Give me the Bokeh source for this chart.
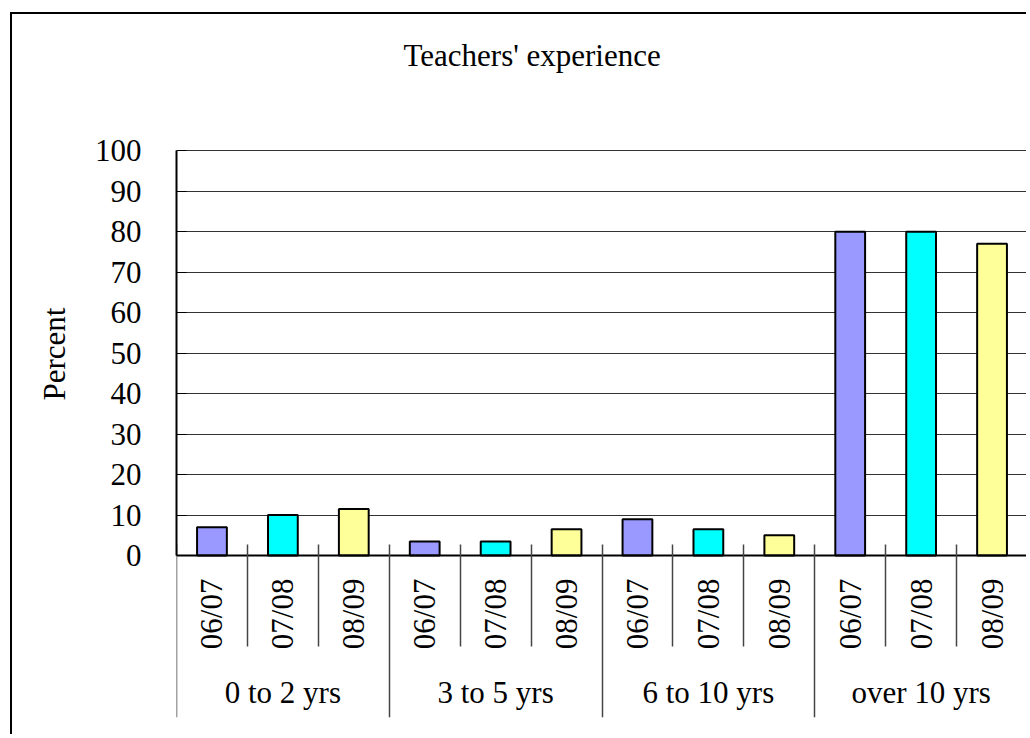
from math import pi
from bokeh.plotting import figure
from bokeh.models import (FactorRange, Range1d, LinearAxis, CategoricalAxis, FixedTicker,
                          ColumnDataSource, Title, Span)
from bokeh.embed import file_html
from bokeh.resources import INLINE

# ---- data ----
groups = ["0 to 2 yrs", "3 to 5 yrs", "6 to 10 yrs", "over 10 yrs"]
years = ["06/07", "07/08", "08/09"]
values_0607 = [7, 3.5, 9, 80]
values_0708 = [10, 3.5, 6.5, 80]
values_0809 = [11.5, 6.5, 5, 77]
year_colors = ["#9999FF", "#00FFFF", "#FFFF99"]
y_ticks = [0, 10, 20, 30, 40, 50, 60, 70, 80, 90, 100]
title_text = "Teachers' experience"
y_label = "Percent"

FONT = "Liberation Serif"
FS = "31px"

series = [values_0607, values_0708, values_0809]
factors, tops, colors = [], [], []
for gi, g in enumerate(groups):
    for yi, y in enumerate(years):
        factors.append((g, y))
        tops.append(series[yi][gi])
        colors.append(year_colors[yi])

src = ColumnDataSource(dict(x=factors, top=tops, color=colors))

# the frame extends below 0 so that the category labels live inside it
p = figure(width=1016, height=722,
           x_range=FactorRange(*factors, range_padding=0, group_padding=0, factor_padding=0),
           y_range=Range1d(-40, 100.3),
           x_axis_location=None,
           output_backend="svg", toolbar_location=None,
           min_border_left=164, min_border_right=1, min_border_top=135, min_border_bottom=19)

# spacer + title
p.add_layout(Title(text=" ", text_font_size="54px", text_font=FONT), "above")
p.add_layout(Title(text=title_text, text_font=FONT, text_font_size=FS,
                   text_font_style="normal", align="left", offset=227,
                   text_color="black"), "above")

p.vbar(x="x", top="top", width=0.42, fill_color="color", line_color="black",
       line_width=2, source=src)

p.outline_line_color = None
p.xgrid.grid_line_color = None
p.ygrid.grid_line_color = "#333333"
p.ygrid.grid_line_width = 1

# category axis, fixed at y = 0
xa = CategoricalAxis(fixed_location=0)
xa.major_tick_line_color = None
xa.major_tick_in = 0
xa.major_tick_out = 0
xa.major_label_orientation = pi / 2
xa.major_label_standoff = 23
xa.major_label_text_font = FONT
xa.major_label_text_font_size = FS
xa.major_label_text_color = "black"
xa.group_text_font = FONT
xa.group_text_font_size = FS
xa.group_text_color = "black"
xa.group_text_font_style = "normal"
xa.separator_line_color = None
xa.axis_line_color = "black"
xa.axis_line_width = 2
p.add_layout(xa, "below")

ya = p.yaxis[0]
ya.ticker = FixedTicker(ticks=y_ticks)
ya.bounds = (0, 100)
ya.major_tick_in = 10
ya.major_tick_out = 0
ya.major_tick_line_color = "black"
ya.minor_tick_line_color = None
ya.major_label_standoff = 35
ya.major_label_text_font = FONT
ya.major_label_text_font_size = FS
ya.major_label_text_color = "black"
ya.axis_label = " "
ya.axis_label_standoff = 11
ya.axis_label_text_font_size = "1px"
ya.axis_line_color = "black"
ya.axis_line_width = 2

# y-axis title, placed along the 0..100 part of the axis
p.add_layout(Title(text=y_label, text_font=FONT, text_font_size=FS,
                   text_font_style="normal", align="left", offset=317,
                   text_color="black"), "left")

# separators between categories: ticks at factor boundaries (synthetic coords)
n = len(factors)
n_sub = len(years)
group_bounds = list(range(0, n + 1, n_sub))
sub_bounds = [i for i in range(n + 1) if i % n_sub != 0]
sep = LinearAxis(fixed_location=0,
                 ticker=FixedTicker(ticks=group_bounds, minor_ticks=sub_bounds))
sep.axis_line_color = None
sep.major_label_text_color = None
sep.major_tick_in = 11
sep.major_tick_out = 162
sep.minor_tick_in = 11
sep.minor_tick_out = 91
sep.major_tick_line_color = "#444444"
sep.minor_tick_line_color = "#444444"
sep.major_tick_line_width = 1.5
sep.minor_tick_line_width = 1.5
p.add_layout(sep, "below")

# right border of the plot area
p.add_layout(Span(location=n, dimension="height", line_color="#888888", line_width=2))

p.styles = {"border-left": "2px solid black", "border-top": "2px solid black",
            "margin-left": "10px", "margin-top": "12px"}

open("out.html", "w").write(file_html(p, INLINE))
